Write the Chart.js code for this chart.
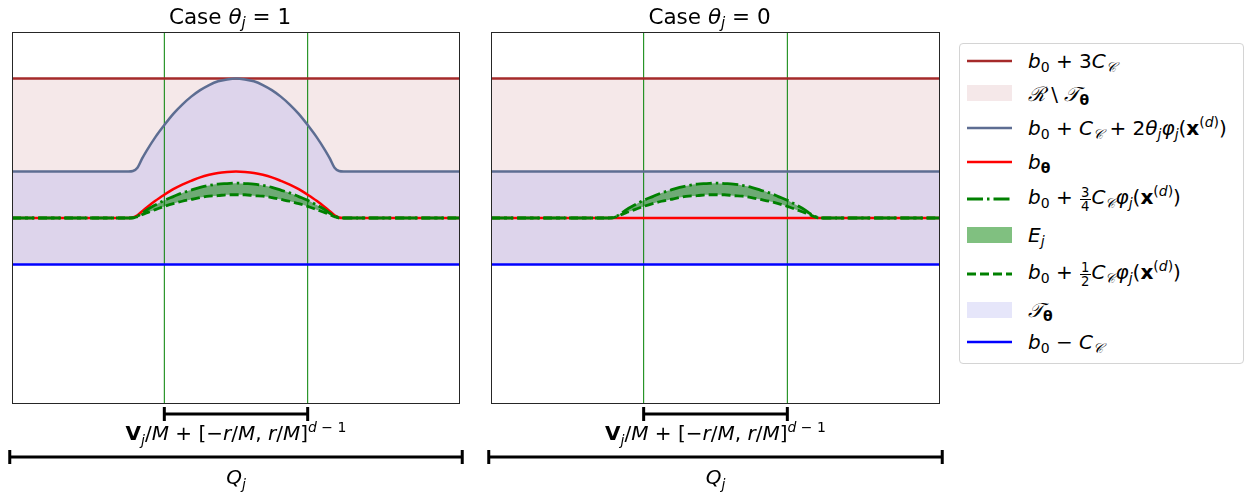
<!DOCTYPE html>
<html>
<head>
<meta charset="utf-8">
<script src="https://cdn.jsdelivr.net/npm/chart.js@4.4.0/dist/chart.umd.min.js"></script>
<style>
  html, body { margin:0; padding:0; background:#fff; }
  body { width:1247px; height:496px; position:relative; overflow:hidden; font-family:"DejaVu Sans", sans-serif; }
  .panel { position:absolute; top:0; width:476px; height:496px; }
  #p1 { left:0; }
  #p2 { left:479px; }
  #legend { position:absolute; left:959px; top:43px; width:283px; height:319px; border:1px solid #d4d4d4; border-radius:4px; background:#fff; font-size:20px; color:#000; }
  .row { position:absolute; left:0; height:32px; display:flex; align-items:center; white-space:nowrap; }
  .hd { width:45px; height:16px; margin-left:7px; margin-right:16px; flex:none; }
  .hd svg { display:block; }
  sub, sup { font-size:0.7em; line-height:0; }
  sub { vertical-align:-0.3em; }
  sup { vertical-align:0.55em; }
  i { font-style:italic; }
  .cal { font-family:"DejaVu Serif", serif; font-style:italic; }
  .fr { display:inline-flex; flex-direction:column; font-size:0.66em; line-height:1; vertical-align:0.55em; text-align:center; margin:0 1px; }
  .fr span:first-child { border-bottom:1px solid #000; padding:0 1px; }
</style>
</head>
<body>
<div class="panel" id="p1"><canvas id="c1" width="476" height="496"></canvas></div>
<div class="panel" id="p2"><canvas id="c2" width="476" height="496"></canvas></div>

<div id="legend">
  <div class="row" style="top:1px"><div class="hd"><svg width="45" height="16"><line x1="0" y1="8" x2="45" y2="8" stroke="#a52a2a" stroke-width="2.5"/></svg></div><span><i>b</i><sub>0</sub> + 3<i>C</i><sub class="cal">𝒞</sub></span></div>
  <div class="row" style="top:33px"><div class="hd" style="background:#f5e8e9"></div><span><span class="cal">ℛ</span> \ <span class="cal">𝒯</span><sub><b>θ</b></sub></span></div>
  <div class="row" style="top:68px"><div class="hd"><svg width="45" height="16"><line x1="0" y1="8" x2="45" y2="8" stroke="#5d6d92" stroke-width="2.5"/></svg></div><span><i>b</i><sub>0</sub> + <i>C</i><sub class="cal">𝒞</sub> + 2<i>θ</i><sub><i>j</i></sub><i>φ</i><sub><i>j</i></sub>(<b>x</b><sup>(<i>d</i>)</sup>)</span></div>
  <div class="row" style="top:102px"><div class="hd"><svg width="45" height="16"><line x1="0" y1="8" x2="45" y2="8" stroke="#ff0000" stroke-width="2.5"/></svg></div><span><i>b</i><sub><b>θ</b></sub></span></div>
  <div class="row" style="top:139px"><div class="hd"><svg width="45" height="16"><line x1="0" y1="8" x2="45" y2="8" stroke="#008000" stroke-width="2.8" stroke-dasharray="16 4 2.5 4"/></svg></div><span><i>b</i><sub>0</sub> + <span class="fr"><span>3</span><span>4</span></span><i>C</i><sub class="cal">𝒞</sub><i>φ</i><sub><i>j</i></sub>(<b>x</b><sup>(<i>d</i>)</sup>)</span></div>
  <div class="row" style="top:175px"><div class="hd" style="background:#80c080"></div><span><i>E</i><sub><i>j</i></sub></span></div>
  <div class="row" style="top:214px"><div class="hd"><svg width="45" height="16"><line x1="0" y1="8" x2="45" y2="8" stroke="#008000" stroke-width="2.8" stroke-dasharray="9 4"/></svg></div><span><i>b</i><sub>0</sub> + <span class="fr"><span>1</span><span>2</span></span><i>C</i><sub class="cal">𝒞</sub><i>φ</i><sub><i>j</i></sub>(<b>x</b><sup>(<i>d</i>)</sup>)</span></div>
  <div class="row" style="top:250px"><div class="hd" style="background:#e6e6fa"></div><span><span class="cal">𝒯</span><sub><b>θ</b></sub></span></div>
  <div class="row" style="top:282px"><div class="hd"><svg width="45" height="16"><line x1="0" y1="8" x2="45" y2="8" stroke="#0000ff" stroke-width="2.5"/></svg></div><span><i>b</i><sub>0</sub> − <i>C</i><sub class="cal">𝒞</sub></span></div>
</div>

<script>
// x positions along Q_j (0..1) where the curves were read
const xs = [0, 0.26, 0.27, 0.28, 0.29, 0.30, 0.32, 0.34, 0.36, 0.38, 0.40, 0.42, 0.44, 0.46, 0.48, 0.50,
            0.52, 0.54, 0.56, 0.58, 0.60, 0.62, 0.64, 0.66, 0.68, 0.70, 0.71, 0.72, 0.73, 0.74, 1];

// b0 + 3C (b0 = 0, C = 1)
const topLine = [3, 3, 3, 3, 3, 3, 3, 3, 3, 3, 3, 3, 3, 3, 3, 3, 3, 3, 3, 3, 3, 3, 3, 3, 3, 3, 3, 3, 3, 3, 3];
// b0 - C
const bottomLine = [-1, -1, -1, -1, -1, -1, -1, -1, -1, -1, -1, -1, -1, -1, -1, -1, -1, -1, -1, -1, -1, -1, -1, -1, -1, -1, -1, -1, -1, -1, -1];
// b0 + C + 2 theta_j phi_j, theta_j = 1
const upperCase1 = [1, 1, 1.01, 1.08, 1.27, 1.44, 1.74, 2.00, 2.24, 2.44, 2.61, 2.75, 2.86, 2.94, 2.98, 3.00,
                    2.98, 2.94, 2.86, 2.75, 2.61, 2.44, 2.24, 2.00, 1.74, 1.44, 1.27, 1.08, 1.01, 1, 1];
// same, theta_j = 0
const upperCase0 = [1, 1, 1, 1, 1, 1, 1, 1, 1, 1, 1, 1, 1, 1, 1, 1, 1, 1, 1, 1, 1, 1, 1, 1, 1, 1, 1, 1, 1, 1, 1];
// b_theta
const bThetaCase1 = [0, 0, 0.01, 0.06, 0.14, 0.22, 0.37, 0.50, 0.62, 0.72, 0.80, 0.875, 0.93, 0.97, 0.99, 1.00,
                     0.99, 0.97, 0.93, 0.875, 0.80, 0.72, 0.62, 0.50, 0.37, 0.22, 0.14, 0.06, 0.01, 0, 0];
const bThetaCase0 = [0, 0, 0, 0, 0, 0, 0, 0, 0, 0, 0, 0, 0, 0, 0, 0, 0, 0, 0, 0, 0, 0, 0, 0, 0, 0, 0, 0, 0, 0, 0];
// b0 + 3/4 C phi_j
const threeQuarter = [0, 0, 0.01, 0.04, 0.10, 0.17, 0.28, 0.38, 0.46, 0.54, 0.60, 0.66, 0.70, 0.73, 0.74, 0.75,
                      0.74, 0.73, 0.70, 0.66, 0.60, 0.54, 0.46, 0.38, 0.28, 0.17, 0.10, 0.04, 0.01, 0, 0];
// b0 + 1/2 C phi_j
const oneHalf = [0, 0, 0, 0.03, 0.07, 0.11, 0.18, 0.25, 0.31, 0.36, 0.40, 0.44, 0.47, 0.48, 0.50, 0.50,
                 0.50, 0.48, 0.47, 0.44, 0.40, 0.36, 0.31, 0.25, 0.18, 0.11, 0.07, 0.03, 0, 0, 0];

const cubeEdges = [0.34, 0.66];      // V_j/M + [-r/M, r/M]^(d-1)
const cellEdges = [-0.005, 1.005];   // Q_j
const yLimits = [-4, 4];
const thetaCases = ['1', '0'];

const FONT = '"DejaVu Sans", sans-serif';

function pts(ys){ return xs.map((x, i) => ({ x, y: ys[i] })); }

// text with italic / bold pieces, subscripts (1) and superscripts (-1)
function drawRich(ctx, segs, cx, cy, size){
  const fontOf = s => `${s.st === 'i' ? 'italic ' : ''}${s.st === 'b' ? 'bold ' : ''}${s.lv ? size * 0.7 : size}px ${FONT}`;
  let w = 0;
  segs.forEach(s => { ctx.font = fontOf(s); s.w = ctx.measureText(s.t).width; w += s.w; });
  let x = cx - w / 2;
  const base = cy + size * 0.36;
  ctx.fillStyle = '#000';
  ctx.textBaseline = 'alphabetic';
  ctx.textAlign = 'left';
  segs.forEach(s => {
    ctx.font = fontOf(s);
    const dy = s.lv === 1 ? size * 0.22 : (s.lv === -1 ? -size * 0.42 : 0);
    ctx.fillText(s.t, x, base + dy);
    x += s.w;
  });
}
const seg = (t, st, lv) => ({ t, st: st || '', lv: lv || 0 });

function bracket(ctx, x0, x1, y){
  ctx.save();
  ctx.strokeStyle = '#000';
  ctx.lineWidth = 3;
  ctx.beginPath();
  ctx.moveTo(x0, y); ctx.lineTo(x1, y);
  ctx.moveTo(x0, y - 7); ctx.lineTo(x0, y + 7);
  ctx.moveTo(x1, y - 7); ctx.lineTo(x1, y + 7);
  ctx.stroke();
  ctx.restore();
}

const decor = {
  id: 'decor',
  afterDraw(chart){
    const { ctx, chartArea: a, scales: { x } } = chart;
    const cx = (a.left + a.right) / 2;
    ctx.save();
    ctx.strokeStyle = '#262626';
    ctx.lineWidth = 1;
    ctx.strokeRect(a.left + 0.5, a.top + 0.5, a.right - a.left - 1, a.bottom - a.top - 1);

    // matplotlib puts the mathtext title a little left of the axes centre
    drawRich(ctx, [seg('Case '), seg('θ', 'i'), seg('j', 'i', 1), seg(' = ' + chart.options.plugins.decor.theta)], cx - 6, 16, 21.5);

    bracket(ctx, x.getPixelForValue(cubeEdges[0]), x.getPixelForValue(cubeEdges[1]), a.bottom + 10);
    drawRich(ctx, [seg('V', 'b'), seg('j', 'i', 1), seg('/'), seg('M', 'i'), seg(' + [−'), seg('r', 'i'), seg('/'), seg('M', 'i'),
                   seg(', '), seg('r', 'i'), seg('/'), seg('M', 'i'), seg(']'), seg('d', 'i', -1), seg(' − 1', '', -1)],
             (x.getPixelForValue(cubeEdges[0]) + x.getPixelForValue(cubeEdges[1])) / 2, a.bottom + 29, 20);

    bracket(ctx, x.getPixelForValue(cellEdges[0]), x.getPixelForValue(cellEdges[1]), a.bottom + 53);
    drawRich(ctx, [seg('Q', 'i'), seg('j', 'i', 1)], cx, a.bottom + 73, 20);
    ctx.restore();
  }
};

function makePanel(id, upper, bTheta, theta, padRight){
  const solid = (label, data, color, extra) => Object.assign({
    label, data: pts(data), borderColor: color, borderWidth: 2.5, pointRadius: 0, fill: false,
    cubicInterpolationMode: 'monotone'
  }, extra || {});
  const vline = xv => ({
    label: 'edge', data: [{ x: xv, y: yLimits[0] }, { x: xv, y: yLimits[1] }],
    borderColor: '#008000', borderWidth: 1, pointRadius: 0, fill: false
  });
  return new Chart(document.getElementById(id), {
    type: 'line',
    data: {
      datasets: [
        solid('b0 + 1/2 C phi', oneHalf, '#008000', { borderWidth: 2.8, borderDash: [9, 4] }),
        solid('b0 + 3/4 C phi', threeQuarter, '#008000', { borderWidth: 2.8, borderDash: [16, 4, 2.5, 4],
              fill: { target: 0, above: 'rgba(0,128,0,0.5)', below: 'rgba(0,128,0,0.5)' } }),
        solid('b_theta', bTheta, '#ff0000'),
        solid('b0 + C + 2 theta phi', upper, '#5d6d92', { fill: { target: 5, above: '#ddd4eb', below: '#ddd4eb' } }),
        solid('b0 + 3C', topLine, '#a52a2a', { fill: { target: 3, above: '#f5e8e9', below: '#f5e8e9' } }),
        solid('b0 - C', bottomLine, '#0000ff'),
        vline(cubeEdges[0]),
        vline(cubeEdges[1])
      ]
    },
    options: {
      responsive: false,
      animation: false,
      events: [],
      layout: { padding: { left: 12, right: padRight, top: 32, bottom: 92 } },
      scales: {
        x: { type: 'linear', min: 0, max: 1, display: false },
        y: { min: yLimits[0], max: yLimits[1], display: false }
      },
      plugins: {
        legend: { display: false },
        tooltip: { enabled: false },
        filler: { drawTime: 'beforeDatasetsDraw' },
        decor: { theta }
      }
    },
    plugins: [decor]
  });
}

makePanel('c1', upperCase1, bThetaCase1, thetaCases[0], 16);
makePanel('c2', upperCase0, bThetaCase0, thetaCases[1], 15);
</script>
</body>
</html>
